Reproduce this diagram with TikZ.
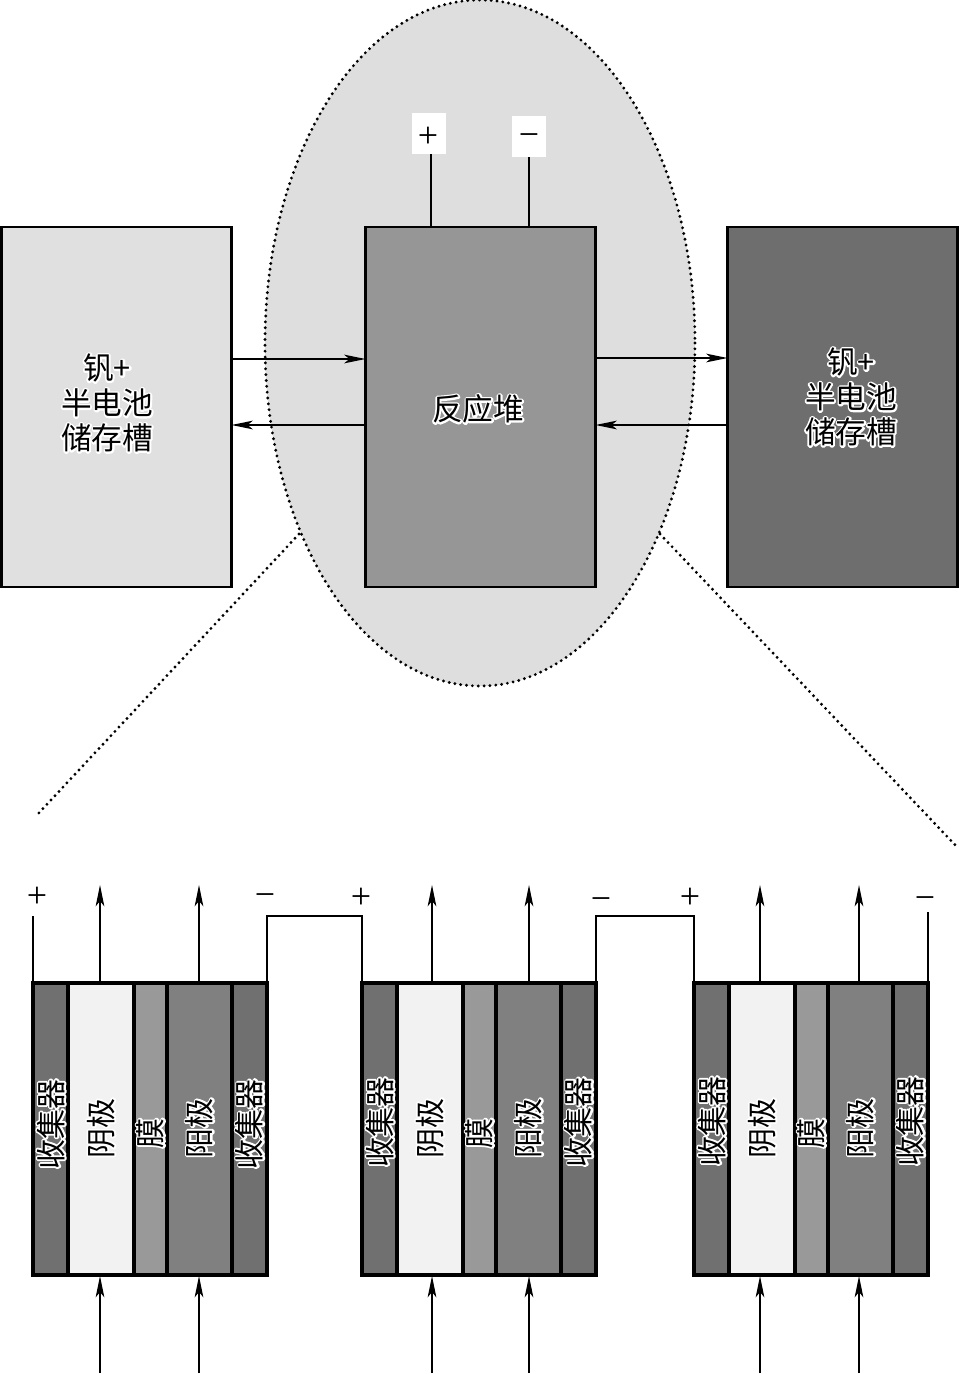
\documentclass[tikz,border=0pt]{standalone}
\usepackage{fontspec}
\setmainfont{Liberation Serif}
\newfontfamily\cjk{Noto Sans CJK SC}
\usetikzlibrary{arrows.meta,calc}
% one white outlined layer under the black glyphs
\newcommand{\halotext}[1]{\rlap{\special{pdf:code q 1 Tr 1 j 1 1 1 RG 2.7 w}#1\special{pdf:code Q}}#1}
\tikzset{
  x=0.75pt,y=-0.75pt,
  blockbox/.style={draw=black,line width=1.8pt,minimum width=172.5pt,minimum height=270pt,inner sep=0pt,outer sep=0pt},
  layerbox/.style={draw=black,line width=2.4pt,minimum height=219pt,inner sep=0pt,outer sep=0pt},
  lbl/.style={font=\cjk\fontsize{23}{26.25}\selectfont,align=center,inner sep=0pt},
  vlbl/.style={font=\cjk\fontsize{22.5}{25}\selectfont,rotate=90,inner sep=0pt},
  sign/.style={font=\fontsize{27}{28}\selectfont,inner sep=0pt},
  flow/.style={line width=1pt,-{Stealth[inset=4pt,length=16pt,width=6.5pt]}},
  wire/.style={line width=1pt},
  zoomline/.style={line width=2.4pt,line cap=round,dash pattern=on 0pt off 4.4pt}
}
\begin{document}
\begin{tikzpicture}
\useasboundingbox (0,0) rectangle (959,1374);
\fill[white] (0,0) rectangle (959,1374);
% enlargement ellipse
\draw[fill=black!13,zoomline] (480,343) ellipse [x radius=215,y radius=343];
\coordinate (zl1) at (299,534);
\coordinate (zl2) at (37,815);
\coordinate (zr1) at (660,534);
\coordinate (zr2) at (958,848);
\draw[zoomline] (zl1) -- (zl2);
\draw[zoomline] (zr1) -- (zr2);
% blocks
\node[blockbox,fill=black!12] (left) at (116.5,407) {};
\node[blockbox,fill=black!41] (stack) at (480.5,407) {};
\node[blockbox,fill=black!57] (right) at (842.5,407) {};
\node[lbl] (leftt) at (107,403) {\halotext{钒+}\\\halotext{半电池}\\\halotext{储存槽}};
\node[lbl] (stackt) at (478,409) {\halotext{反应堆}};
\node[lbl] (rightt) at (851,397) {\halotext{钒+}\\\halotext{半电池}\\\halotext{储存槽}};
% terminals
\node[fill=white,minimum width=25.5pt,minimum height=30.75pt,inner sep=0pt,outer sep=0pt] (pbox) at (429,133.5) {};
\node[fill=white,minimum width=25.5pt,minimum height=30.75pt,inner sep=0pt,outer sep=0pt] (mbox) at (529,136.5) {};
\node[sign] (ptext) at (428,137) {+};
\node[sign] (mtext) at (529,140) {−};
\coordinate (pw) at ($(pbox.south)+(2,0)$);
\draw[wire] (pw) -- (pw |- stack.north);
\draw[wire] (mbox.south) -- (mbox.south |- stack.north);
% tank flows
\coordinate (a1) at (left.east |- 0,359);
\coordinate (a2) at (stack.west |- 0,359);
\coordinate (b1) at (stack.west |- 0,425);
\coordinate (b2) at (left.east |- 0,425);
\coordinate (c1) at (stack.east |- 0,358);
\coordinate (c2) at (right.west |- 0,358);
\coordinate (d1) at (right.west |- 0,425);
\coordinate (d2) at (stack.east |- 0,425);
\draw[flow] (a1) -- (a2);
\draw[flow] (b1) -- (b2);
\draw[flow] (c1) -- (c2);
\draw[flow] (d1) -- (d2);
% cells
\foreach \n/\xa/\xb/\xc/\xd/\xe/\xf/\dy/\ac/\aa in {1/33/68/134/167/232/267/0/100/199, 2/362/397/463/496/561/596/-2/432/529, 3/694/729/795/828/893/928/-3/760/859}{
  \node[layerbox,fill=black!56,minimum width={(\xb-\xa)*0.75pt}] (col\n) at ({(\xa+\xb)/2},1129) {};
  \node[layerbox,fill=black!5,minimum width={(\xc-\xb)*0.75pt}] (cat\n) at ({(\xb+\xc)/2},1129) {};
  \node[layerbox,fill=black!40,minimum width={(\xd-\xc)*0.75pt}] (mem\n) at ({(\xc+\xd)/2},1129) {};
  \node[layerbox,fill=black!50,minimum width={(\xe-\xd)*0.75pt}] (ano\n) at ({(\xd+\xe)/2},1129) {};
  \node[layerbox,fill=black!56,minimum width={(\xf-\xe)*0.75pt}] (cor\n) at ({(\xe+\xf)/2},1129) {};
  \node[vlbl] (tcol\n) at ({(\xa+\xb)/2+0.5},{1124+\dy}) {\halotext{收集器}};
  \node[vlbl] (tcat\n) at ({(\xb+\xc)/2},1128) {\halotext{阴极}};
  \node[vlbl] (tmem\n) at ({(\xc+\xd)/2},1133) {\halotext{膜}};
  \node[vlbl] (tano\n) at ({(\xd+\xe)/2},1128) {\halotext{阳极}};
  \node[vlbl] (tcor\n) at ({(\xe+\xf)/2},{1124+\dy}) {\halotext{收集器}};
  \coordinate (bc\n) at (\ac,983);
  \coordinate (ba\n) at (\aa,983);
  \coordinate (uc\n) at (\ac,885);
  \coordinate (ua\n) at (\aa,885);
  \coordinate (tc\n) at (\ac,1276);
  \coordinate (ta\n) at (\aa,1276);
  \coordinate (dc\n) at (\ac,1373);
  \coordinate (da\n) at (\aa,1373);
  \draw[flow] (bc\n) -- (uc\n);
  \draw[flow] (ba\n) -- (ua\n);
  \draw[flow] (dc\n) -- (tc\n);
  \draw[flow] (da\n) -- (ta\n);
}
% series wires
\coordinate (w1) at (col1.north west |- 0,916);
\coordinate (w2) at (cor1.north east |- 0,916);
\coordinate (w3) at (col2.north west |- 0,916);
\coordinate (w4) at (cor2.north east |- 0,916);
\coordinate (w5) at (col3.north west |- 0,916);
\coordinate (w6) at (cor3.north east |- 0,912);
\draw[wire] (col1.north west) -- (w1);
\draw[wire] (cor1.north east) -- (w2) -- (w3) -- (col2.north west);
\draw[wire] (cor2.north east) -- (w4) -- (w5) -- (col3.north west);
\draw[wire] (cor3.north east) -- (w6);
\node[sign] (s1) at (37,897) {+};
\node[sign] (s2) at (265,900) {−};
\node[sign] (s3) at (361,898) {+};
\node[sign] (s4) at (601,904) {−};
\node[sign] (s5) at (690,898) {+};
\node[sign] (s6) at (925,903) {−};
\end{tikzpicture}
\end{document}
